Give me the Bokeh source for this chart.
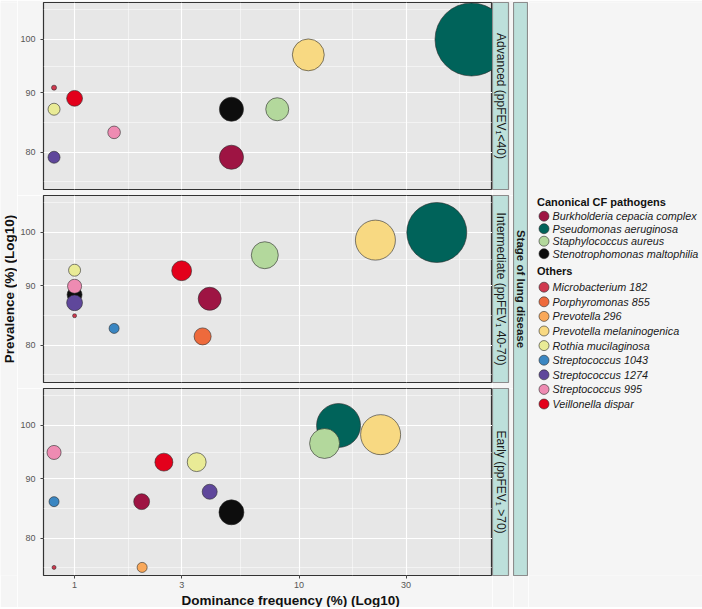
import math
import numpy as np
from bokeh.plotting import figure
from bokeh.models import (Range1d, FixedTicker, ColumnDataSource, Label, Title,
                          NumeralTickFormatter)
from bokeh.layouts import row, column
from bokeh.embed import file_html
from bokeh.resources import INLINE
from bokeh.core.properties import value

# ---------------- data ----------------
canonical = ["Burkholderia cepacia complex", "Pseudomonas aeruginosa",
             "Staphylococcus aureus", "Stenotrophomonas maltophilia"]
others = ["Microbacterium 182", "Porphyromonas 855", "Prevotella 296",
          "Prevotella melaninogenica", "Rothia mucilaginosa", "Streptococcus 1043",
          "Streptococcus 1274", "Streptococcus 995", "Veillonella dispar"]
canonical_colors = ["#9E1443", "#00635A", "#B3D89C", "#0D0D0D"]
others_colors = ["#D0384E", "#EE6A3C", "#F9A85A", "#F8D982", "#E9EB96",
                 "#3A86C2", "#5F479B", "#EE8BB2", "#E3001B"]

stages = ["Advanced (ppFEV\u2081<40)", "Intermediate (ppFEV\u2081 40-70)", "Early (ppFEV\u2081 >70)"]

# Advanced
adv_species = ["Burkholderia cepacia complex", "Pseudomonas aeruginosa", "Staphylococcus aureus",
               "Stenotrophomonas maltophilia", "Microbacterium 182", "Prevotella melaninogenica",
               "Rothia mucilaginosa", "Streptococcus 1274", "Streptococcus 995", "Veillonella dispar"]
adv_dominance = [5.0, 58.7, 8.0, 5.0, 0.81, 11.0, 0.81, 0.81, 1.5, 1.0]
adv_prevalence = [79.2, 100.0, 87.1, 87.1, 90.9, 97.0, 87.1, 79.2, 83.2, 89.0]
adv_abundance = [4.4, 40.3, 4.0, 4.4, 0.19, 7.7, 1.09, 1.09, 1.2, 1.9]

# Intermediate
int_species = ["Burkholderia cepacia complex", "Pseudomonas aeruginosa", "Staphylococcus aureus",
               "Stenotrophomonas maltophilia", "Microbacterium 182", "Porphyromonas 855",
               "Prevotella melaninogenica", "Rothia mucilaginosa", "Streptococcus 1043",
               "Streptococcus 1274", "Streptococcus 995", "Veillonella dispar"]
int_dominance = [4.0, 41.1, 7.04, 1.0, 1.0, 3.72, 21.9, 1.0, 1.5, 1.0, 1.0, 3.0]
int_prevalence = [87.7, 100.0, 95.6, 88.4, 84.8, 81.4, 98.5, 92.8, 82.7, 87.0, 89.9, 92.7]
int_abundance = [4.0, 27.2, 5.5, 1.7, 0.12, 2.2, 12.1, 1.09, 0.76, 1.9, 1.5, 3.0]

# Early
ear_species = ["Burkholderia cepacia complex", "Pseudomonas aeruginosa", "Staphylococcus aureus",
               "Stenotrophomonas maltophilia", "Microbacterium 182", "Prevotella 296",
               "Prevotella melaninogenica", "Rothia mucilaginosa", "Streptococcus 1043",
               "Streptococcus 1274", "Streptococcus 995", "Veillonella dispar"]
ear_dominance = [1.99, 15.0, 13.0, 5.0, 0.81, 2.0, 23.1, 3.5, 0.81, 4.0, 0.81, 2.5]
ear_prevalence = [86.0, 100.0, 96.5, 84.2, 75.5, 75.5, 98.2, 93.0, 86.0, 87.7, 94.8, 93.0]
ear_abundance = [1.9, 14.6, 6.8, 4.7, 0.12, 0.76, 12.1, 2.7, 0.76, 1.7, 1.5, 2.45]

x_breaks = [1, 3, 10, 30]
y_breaks = [80, 90, 100]
x_limits = (0.727, 72.8)
y_limits = (74.3, 107.6)

# ---------------- style / layout ----------------
BG = "#f5f5f5"
PANEL_BG = "#e7e7e7"
STRIP_BG = "#bde0db"
STRIP_LINE = "#8c8c8c"
FONT = "Liberation Sans"
FRAME_W = 449
FRAME_H = 187
TOP = 2
GAP = 6
BOTTOM = 32
TITLE_W = 17
LEFT = 25
TOTAL_H = TOP + 3 * FRAME_H + 2 * GAP + BOTTOM
ALL_TOP = TOP
ALL_BOTTOM = TOTAL_H - BOTTOM  # canvas y of panel-area bottom

color_of = dict(zip(canonical + others, canonical_colors + others_colors))


def minor_breaks(breaks):
    lb = [math.log10(b) for b in breaks]
    bd = lb[1] - lb[0]
    ext = [lb[0] - bd] + lb + [lb[-1] + bd]
    return [10 ** ((a + b) / 2) for a, b in zip(ext[:-1], ext[1:])]


def size_scale(a):
    return 11.5 * np.sqrt(np.asarray(a))


def make_panel(species, dom, prev, ab, top, bottom, show_x):
    p = figure(x_axis_type="log", y_axis_type="log",
               x_range=Range1d(*x_limits), y_range=Range1d(*y_limits),
               frame_width=FRAME_W, frame_height=FRAME_H,
               min_border_left=LEFT, min_border_right=0,
               min_border_top=top, min_border_bottom=bottom,
               x_axis_location="below" if show_x else None,
               toolbar_location=None, output_backend="svg",
               background_fill_color=PANEL_BG, border_fill_color=BG,
               outline_line_color="#333333", outline_line_width=1.2)
    xt = FixedTicker(ticks=x_breaks, minor_ticks=minor_breaks(x_breaks))
    yt = FixedTicker(ticks=y_breaks, minor_ticks=minor_breaks(y_breaks))
    for g in p.xgrid:
        g.ticker = xt
    for g in p.ygrid:
        g.ticker = yt
    p.grid.grid_line_color = "white"
    p.grid.grid_line_width = 1.1
    p.grid.minor_grid_line_color = "white"
    p.grid.minor_grid_line_width = 0.5
    axes = [(ax, yt) for ax in p.yaxis]
    if show_x:
        axes += [(ax, xt) for ax in p.xaxis]
    for ax, tk in axes:
        ax.ticker = tk
        ax.formatter = NumeralTickFormatter(format="0")
        ax.axis_line_color = None
        ax.major_tick_in = 0
        ax.major_tick_out = 3
        ax.major_tick_line_color = "#444444"
        ax.minor_tick_line_color = None
        ax.major_label_text_font = FONT
        ax.major_label_text_font_size = "9px"
        ax.major_label_text_color = "#555555"
    for ax in p.yaxis:
        ax.major_label_standoff = 4
    if show_x:
        for ax in p.xaxis:
            ax.major_label_standoff = 2
    src = ColumnDataSource(dict(x=dom, y=prev, d=size_scale(ab),
                                c=[color_of[s] for s in species], name=species))
    p.scatter("x", "y", size="d", fill_color="c", line_color="#2b2b2b",
              line_width=0.6, source=src)
    return p


p1 = make_panel(adv_species, adv_dominance, adv_prevalence, adv_abundance, TOP, GAP, False)
p2 = make_panel(int_species, int_dominance, int_prevalence, int_abundance, 0, GAP, False)
p3 = make_panel(ear_species, ear_dominance, ear_prevalence, ear_abundance, 0, BOTTOM, True)
p3.add_layout(Title(text="Dominance frequency (%) (Log10)", align="left", offset=138,
                    text_font=FONT, text_font_size="13.5px", text_font_style="bold",
                    text_color="#111111", standoff=0), "below")


def blank_fig(width, x_end, top=ALL_TOP, bottom=BOTTOM, right=0, bg=BG, outline=None, fh=None):
    kw = dict(frame_width=width, frame_height=fh if fh else (ALL_BOTTOM - ALL_TOP))
    f = figure(x_range=Range1d(0, x_end), y_range=Range1d(ALL_BOTTOM, ALL_TOP),
               min_border_left=0, min_border_right=right,
               min_border_top=top, min_border_bottom=bottom,
               x_axis_location=None, y_axis_location=None,
               toolbar_location=None, output_backend="svg",
               background_fill_color=bg, border_fill_color=BG,
               outline_line_color=outline, outline_line_width=1.2, **kw)
    f.grid.grid_line_color = None
    return f


def make_strip(text, top, bottom, fh, width, right, bold=False, size="12px"):
    s = figure(frame_width=width, frame_height=fh,
               x_range=Range1d(0, 1), y_range=Range1d(0, 1),
               min_border_left=0, min_border_right=right,
               min_border_top=top, min_border_bottom=bottom,
               x_axis_location=None, y_axis_location=None,
               toolbar_location=None, output_backend="svg",
               background_fill_color=STRIP_BG, border_fill_color=BG,
               outline_line_color=STRIP_LINE, outline_line_width=1.2)
    s.grid.grid_line_color = None
    s.add_layout(Label(x=0.5, y=0.5, text=text, angle=-math.pi / 2,
                       text_align="center", text_baseline="middle",
                       text_font=FONT, text_font_size=size,
                       text_font_style="bold" if bold else "normal",
                       text_color="#1a1a1a"))
    return s


s1 = make_strip(stages[0], TOP, GAP, FRAME_H, 16, 5)
s2 = make_strip(stages[1], 0, GAP, FRAME_H, 16, 5)
s3 = make_strip(stages[2], 0, BOTTOM, FRAME_H, 16, 5)
outer = make_strip("Stage of lung disease", TOP, BOTTOM, ALL_BOTTOM - ALL_TOP, 15, 0,
                   bold=True, size="11.5px")

# y-axis title (shared by the three panels)
ytitle = blank_fig(TITLE_W, TITLE_W)
ytitle.add_layout(Label(x=9, y=TOP + 1.5 * FRAME_H + GAP, text="Prevalence (%) (Log10)",
                        angle=math.pi / 2, text_align="center", text_baseline="middle",
                        text_font=FONT, text_font_size="13.5px", text_font_style="bold",
                        text_color="#111111"))

# ---------------- legend ----------------
LEG_W = 702 - (TITLE_W + LEFT + FRAME_W + 21 + 15)
leg = blank_fig(LEG_W, LEG_W)

groups = [("Canonical CF pathogens", canonical, canonical_colors, 201.7, 215.7, 12.5),
          ("Others", others, others_colors, 270, 286.7, 14.6)]
for title, names, cols, ty, y0, step in groups:
    leg.text(x=[8.5], y=[ty], text=[title], text_font=value(FONT), text_font_size="11px",
             text_font_style="bold", text_color="#111111", text_baseline="middle")
    ys = [y0 + i * step for i in range(len(names))]
    leg.scatter(x=[15.5] * len(names), y=ys, size=10, fill_color=cols,
                line_color="#2b2b2b", line_width=0.6)
    leg.text(x=[24] * len(names), y=ys, text=names, text_font=value(FONT),
             text_font_size="10.8px", text_font_style="italic", text_color="#1a1a1a",
             text_baseline="middle")

layout = row(ytitle, column(p1, p2, p3), column(s1, s2, s3), outer, leg)

html = file_html(layout, INLINE)
html = html.replace("<body>", '<body style="background-color:%s;">' % BG, 1)
open("out.html", "w").write(html)
